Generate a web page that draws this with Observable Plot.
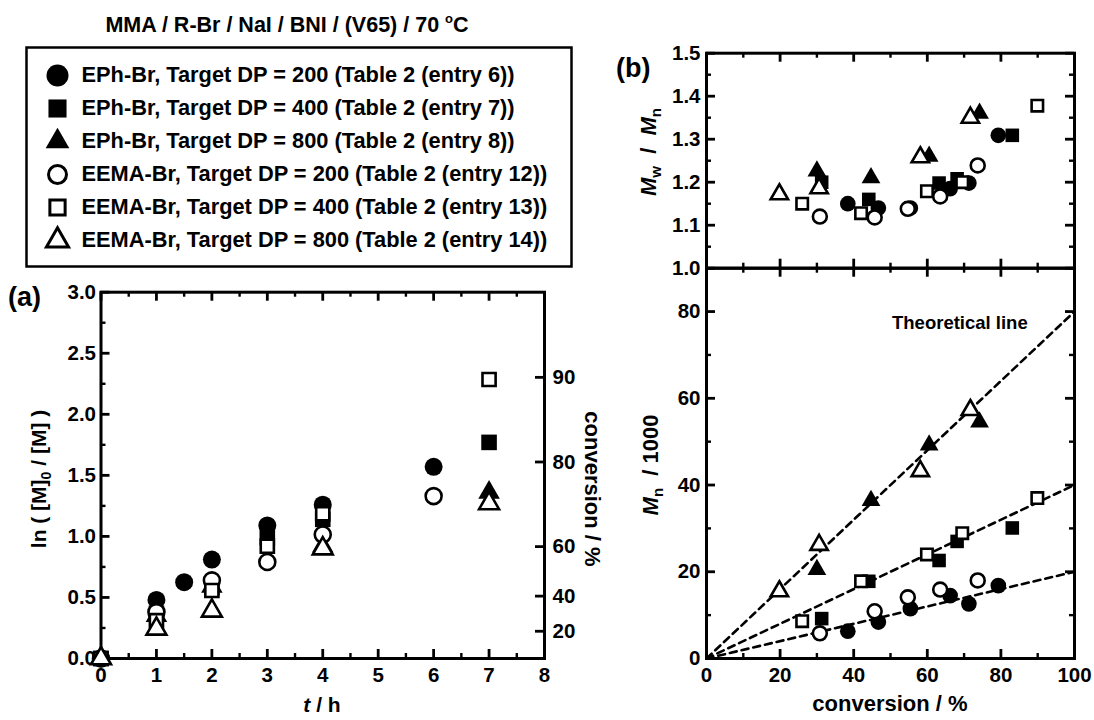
<!DOCTYPE html>
<html><head><meta charset="utf-8">
<script src="https://cdn.jsdelivr.net/npm/d3@7"></script>
<script src="https://cdn.jsdelivr.net/npm/@observablehq/plot@0.6"></script>
<style>
body{margin:0;background:#fff;}
#wrap{position:relative;width:1094px;height:720px;overflow:hidden;background:#fff;font-family:'Liberation Sans',Arial,sans-serif;}
.pane{position:absolute;}
.pane svg{overflow:visible;}
</style></head><body><div id="wrap"></div>
<script>
// ---------- series meta ----------
const seriesNames = [
  "EPh-Br, Target DP = 200 (Table 2 (entry 6))",
  "EPh-Br, Target DP = 400 (Table 2 (entry 7))",
  "EPh-Br, Target DP = 800 (Table 2 (entry 8))",
  "EEMA-Br, Target DP = 200 (Table 2 (entry 12))",
  "EEMA-Br, Target DP = 400 (Table 2 (entry 13))",
  "EEMA-Br, Target DP = 800 (Table 2 (entry 14))"
];
const seriesSymbols = ["circle", "square", "triangle", "circle", "square", "triangle"];
const seriesFilled = [true, true, true, false, false, false];

// ---------- panel (a): ln([M]0/[M]) vs t ----------
const tEPh200 = [0, 1, 1.5, 2, 3, 4, 6];
const lnEPh200 = [0, 0.48, 0.625, 0.81, 1.09, 1.26, 1.57];
const tEPh400 = [0, 1, 2, 3, 4, 7];
const lnEPh400 = [0, 0.37, 0.58, 0.99, 1.14, 1.77];
const tEPh800 = [0, 1, 2, 4, 7];
const lnEPh800 = [0, 0.35, 0.59, 0.92, 1.36];
const tEEMA200 = [0, 1, 2, 3, 4, 6];
const lnEEMA200 = [0, 0.38, 0.64, 0.79, 1.015, 1.33];
const tEEMA400 = [0, 1, 2, 3, 4, 7];
const lnEEMA400 = [0, 0.31, 0.557, 0.92, 1.185, 2.285];
const tEEMA800 = [0, 1, 2, 4, 7];
const lnEEMA800 = [0, 0.243, 0.39, 0.90, 1.27];

// ---------- panel (b): Mn and Mw/Mn vs conversion ----------
const convEPh200 = [38.4, 46.7, 55.4, 66.2, 71.3, 79.3];
const mnEPh200 = [6.3, 8.4, 11.5, 14.5, 12.6, 16.8];
const pdiEPh200 = [1.15, 1.14, 1.14, 1.185, 1.198, 1.309];
const convEPh400 = [31.3, 44.1, 63.2, 68.1, 83.1];
const mnEPh400 = [9.2, 17.8, 22.6, 27.0, 30.1];
const pdiEPh400 = [1.20, 1.16, 1.198, 1.208, 1.309];
const convEPh800 = [30.0, 44.7, 60.5, 74.2];
const mnEPh800 = [20.5, 36.4, 49.2, 54.5];
const pdiEPh800 = [1.226, 1.21, 1.26, 1.36];
const convEEMA200 = [30.8, 45.7, 54.7, 63.5, 73.7];
const mnEEMA200 = [5.8, 10.9, 14.1, 15.9, 18.0];
const pdiEEMA200 = [1.12, 1.118, 1.138, 1.167, 1.239];
const convEEMA400 = [26.0, 42.0, 59.9, 69.5, 89.9];
const mnEEMA400 = [8.6, 17.8, 24.0, 28.9, 37.0];
const pdiEEMA400 = [1.15, 1.128, 1.179, 1.20, 1.378];
const convEEMA800 = [19.8, 30.6, 58.1, 71.7];
const mnEEMA800 = [15.5, 26.2, 43.2, 57.3];
const pdiEEMA800 = [1.172, 1.186, 1.258, 1.35];

// theoretical lines (Mn/1000 vs conversion)
const theoryConv = [0, 100];
const theoryDP200 = [0, 20];
const theoryDP400 = [0, 40];
const theoryDP800 = [0, 80];

// ---------- tick values ----------
const tTicksA = [0, 1, 2, 3, 4, 5, 6, 7, 8];
const lnTicksA = [0, 0.5, 1.0, 1.5, 2.0, 2.5, 3.0];
const convTicksA = [20, 40, 60, 80, 90];
const pdiTicks = [1.0, 1.1, 1.2, 1.3, 1.4, 1.5];
const mnTicks = [0, 20, 40, 60, 80];
const convTicksB = [0, 20, 40, 60, 80, 100];

// ---------- helpers ----------
const tA = [tEPh200, tEPh400, tEPh800, tEEMA200, tEEMA400, tEEMA800];
const lnA = [lnEPh200, lnEPh400, lnEPh800, lnEEMA200, lnEEMA400, lnEEMA800];
const convB = [convEPh200, convEPh400, convEPh800, convEEMA200, convEEMA400, convEEMA800];
const mnB = [mnEPh200, mnEPh400, mnEPh800, mnEEMA200, mnEEMA400, mnEEMA800];
const pdiB = [pdiEPh200, pdiEPh400, pdiEPh800, pdiEEMA200, pdiEEMA400, pdiEEMA800];

function radius(sym, filled) {
  if (sym === "circle") return filled ? 9 : 8;
  if (sym === "square") return filled ? 8.8 : 7.4;
  return filled ? 8 : 7.4;
}
function dots(xs, ys, i, k) {
  const f = seriesFilled[i];
  return Plot.dot(xs.map((_, j) => j), {
    x: j => xs[j], y: j => ys[j],
    symbol: seriesSymbols[i], r: radius(seriesSymbols[i], f) * k,
    fill: f ? "black" : "white", stroke: f ? "none" : "black", strokeWidth: f ? 0 : 2.6
  });
}
const baseStyle = {
  fontFamily: "'Liberation Sans', Arial, sans-serif", fontSize: "20.5px", fontWeight: "bold",
  overflow: "visible", background: "transparent", color: "black"
};
const MAJ = 9, MIN = 5;
// inward ticks: short rules inset from the opposite frame edge (W, H = frame size in px)
function frameTicksX(H, major, minor) {
  return [
    Plot.ruleX(major, {x: d => d, insetTop: H - MAJ, stroke: "black", strokeWidth: 2.8}),
    Plot.ruleX(minor, {x: d => d, insetTop: H - MIN, stroke: "black", strokeWidth: 2.4}),
    Plot.ruleX(major, {x: d => d, insetBottom: H - MAJ, stroke: "black", strokeWidth: 2.8}),
    Plot.ruleX(minor, {x: d => d, insetBottom: H - MIN, stroke: "black", strokeWidth: 2.4})
  ];
}
function frameTicksY(W, major, minor, both = true) {
  const m = [
    Plot.ruleY(major, {y: d => d, insetRight: W - MAJ, stroke: "black", strokeWidth: 2.8}),
    Plot.ruleY(minor, {y: d => d, insetRight: W - MIN, stroke: "black", strokeWidth: 2.4})
  ];
  if (both) m.push(
    Plot.ruleY(major, {y: d => d, insetLeft: W - MAJ, stroke: "black", strokeWidth: 2.8}),
    Plot.ruleY(minor, {y: d => d, insetLeft: W - MIN, stroke: "black", strokeWidth: 2.4})
  );
  return m;
}
function place(node, left, top) {
  const d = document.createElement("div");
  d.className = "pane"; d.style.left = left + "px"; d.style.top = top + "px";
  d.appendChild(node); document.getElementById("wrap").appendChild(d);
}
const order = [0, 1, 2, 3, 4, 5];

// ---------- legend ----------
const legend = Plot.plot({
  width: 545, height: 219, marginTop: 0, marginBottom: 0, marginLeft: 0, marginRight: 0,
  x: {domain: [0, 1], axis: null},
  y: {type: "point", domain: seriesNames, range: [26, 194], padding: 0, axis: null},
  style: baseStyle,
  marks: [
    Plot.frame({strokeWidth: 2.5}),
    ...order.map(i => {
      const f = seriesFilled[i], s = seriesSymbols[i];
      const r = s === "circle" ? (f ? 11 : 9) : s === "square" ? (f ? 10.2 : 8.6) : (f ? 8.8 : 8.2);
      return Plot.dot([seriesNames[i]], {y: d => d, frameAnchor: "left", dx: 31, symbol: s, r,
        fill: f ? "black" : "white", stroke: f ? "none" : "black", strokeWidth: f ? 0 : 3});
    }),
    Plot.text(seriesNames, {y: d => d, text: d => d, frameAnchor: "left", dx: 55, textAnchor: "start", fontSize: 21.8, fontWeight: "bold"})
  ]
});
place(legend, 26, 47);

// ---------- panel (a) ----------
const A = {width: 615, height: 450, ml: 100.5, mr: 71, mt: 21.7, mb: 62};
const AW = A.width - A.ml - A.mr, AH = A.height - A.mt - A.mb;
const convTickPos = convTicksA.map(c => -Math.log(1 - c / 100));
const plotA = Plot.plot({
  width: A.width, height: A.height, marginLeft: A.ml, marginRight: A.mr, marginTop: A.mt, marginBottom: A.mb,
  x: {domain: [0, 8], axis: null}, y: {domain: [0, 3], axis: null},
  style: baseStyle,
  marks: [
    ...frameTicksX(AH, tTicksA, d3.range(0.5, 8, 1)),
    ...frameTicksY(AW, lnTicksA, d3.range(0.25, 3, 0.5), false),
    Plot.ruleY(convTickPos, {y: d => d, insetLeft: AW - MAJ, stroke: "black", strokeWidth: 2.8}),
    Plot.frame({strokeWidth: 3}),
    Plot.axisX({ticks: tTicksA, tickSize: 0, tickPadding: 9, tickFormat: d => d}),
    Plot.axisY({ticks: lnTicksA, tickSize: 0, tickPadding: 5, tickFormat: d3.format(".1f")}),
    Plot.axisY({anchor: "right", ticks: convTickPos, tickSize: 0, tickPadding: 8,
      tickFormat: d => Math.round((1 - Math.exp(-d)) * 100)}),
    ...order.map(i => dots(tA[i], lnA[i], i, 1))
  ]
});
place(plotA, 0, 270);

// ---------- panel (b) top: Mw/Mn ----------
const BT = {width: 479, height: 240, ml: 91, mr: 20, mt: 22.7, mb: 2.3};
const BW = BT.width - BT.ml - BT.mr, BTH = BT.height - BT.mt - BT.mb;
const plotBt = Plot.plot({
  width: BT.width, height: BT.height, marginLeft: BT.ml, marginRight: BT.mr, marginTop: BT.mt, marginBottom: BT.mb,
  x: {domain: [0, 100], axis: null}, y: {domain: [1.0, 1.5], axis: null},
  style: baseStyle,
  marks: [
    ...frameTicksX(BTH, convTicksB, d3.range(10, 100, 20)),
    ...frameTicksY(BW, pdiTicks, d3.range(1.05, 1.5, 0.1)),
    Plot.frame({strokeWidth: 3}),
    Plot.axisY({ticks: pdiTicks, tickSize: 0, tickPadding: 6, tickFormat: d3.format(".1f")}),
    ...order.map(i => dots(convB[i], pdiB[i], i, 0.87))
  ]
});
place(plotBt, 615, 30);

// ---------- panel (b) bottom: Mn ----------
const BB = {width: 479, height: 460, ml: 91, mr: 20, mt: 7.7, mb: 62};
const BBH = BB.height - BB.mt - BB.mb;
const plotBb = Plot.plot({
  width: BB.width, height: BB.height, marginLeft: BB.ml, marginRight: BB.mr, marginTop: BB.mt, marginBottom: BB.mb,
  x: {domain: [0, 100], axis: null}, y: {domain: [0, 90], axis: null},
  style: baseStyle,
  marks: [
    Plot.line(theoryConv.map((_, j) => j), {x: j => theoryConv[j], y: j => theoryDP200[j], stroke: "black", strokeWidth: 2.6, strokeDasharray: "7,5"}),
    Plot.line(theoryConv.map((_, j) => j), {x: j => theoryConv[j], y: j => theoryDP400[j], stroke: "black", strokeWidth: 2.6, strokeDasharray: "7,5"}),
    Plot.line(theoryConv.map((_, j) => j), {x: j => theoryConv[j], y: j => theoryDP800[j], stroke: "black", strokeWidth: 2.6, strokeDasharray: "7,5"}),
    ...frameTicksX(BBH, convTicksB, d3.range(10, 100, 20)),
    ...frameTicksY(BW, mnTicks, d3.range(10, 91, 20)),
    Plot.frame({strokeWidth: 3}),
    Plot.axisY({ticks: mnTicks, tickSize: 0, tickPadding: 6, tickFormat: d => d}),
    Plot.axisX({ticks: convTicksB, tickSize: 0, tickPadding: 9, tickFormat: d => d}),
    ...order.map(i => dots(convB[i], mnB[i], i, 0.87))
  ]
});
place(plotBb, 615, 260);

// ---------- text overlay: title, panel letters, axis titles ----------
const ov = document.createElement("div");
ov.className = "pane"; ov.style.left = "0px"; ov.style.top = "0px"; ov.style.pointerEvents = "none";
ov.innerHTML = `
<svg width="1094" height="720" xmlns="http://www.w3.org/2000/svg" style="font-family:'Liberation Sans',Arial,sans-serif;font-weight:bold;fill:black">
  <text x="287" y="31.5" text-anchor="middle" font-size="21.5">MMA / R-Br / NaI / BNI / (V65) / 70 <tspan font-size="13" dy="-9">o</tspan><tspan dy="9">C</tspan></text>
  <text x="8" y="306" font-size="27">(a)</text>
  <text x="616" y="77" font-size="27">(b)</text>
  <text x="322" y="712" text-anchor="middle" font-size="21"><tspan font-style="italic">t</tspan> / h</text>
  <text transform="translate(46,479) rotate(-90)" text-anchor="middle" font-size="21">ln ( [M]<tspan font-size="14" dy="5">0</tspan><tspan dy="-5"> / [M] )</tspan></text>
  <text transform="translate(585,489) rotate(90)" text-anchor="middle" font-size="22">conversion / %</text>
  <text transform="translate(656,152) rotate(-90)" text-anchor="middle" font-size="22"><tspan font-style="italic">M</tspan><tspan font-size="15" dy="5">w</tspan><tspan dy="-5" xml:space="preserve">  /  </tspan><tspan font-style="italic">M</tspan><tspan font-size="15" dy="5">n</tspan></text>
  <text transform="translate(658,465) rotate(-90)" text-anchor="middle" font-size="22"><tspan font-style="italic">M</tspan><tspan font-size="15" dy="5">n</tspan><tspan dy="-5" xml:space="preserve">  / 1000</tspan></text>
  <text x="890" y="711" text-anchor="middle" font-size="22">conversion / %</text>
  <text x="892" y="329" font-size="18.5">Theoretical line</text>
</svg>`;
document.getElementById("wrap").appendChild(ov);
</script></body></html>
